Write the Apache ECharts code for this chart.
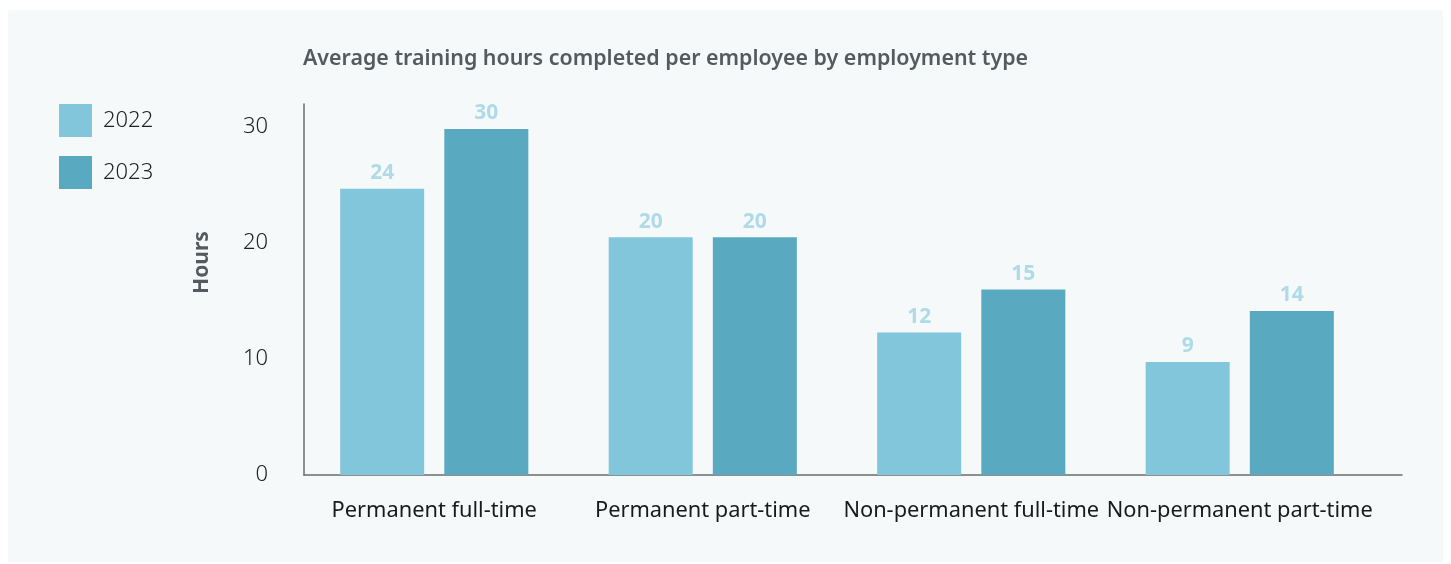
<!DOCTYPE html>
<html>
<head>
<meta charset="utf-8">
<script src="https://cdn.jsdelivr.net/npm/echarts@6/dist/echarts.min.js"></script>
<style>
  html, body { margin: 0; padding: 0; background: #ffffff; }
  #panel { position: absolute; left: 8px; top: 10px; width: 1435px; height: 552px; background: #f5f9fa; }
  #main { position: absolute; left: 0; top: 0; width: 1451px; height: 564px; }
</style>
</head>
<body>
<div id="panel"></div>
<div id="main"></div>
<script>
// Categories and values
const categories = [
  "Permanent full-time",
  "Permanent part-time",
  "Non-permanent full-time",
  "Non-permanent part-time",
];
const seriesNames = ["2022", "2023"];
const hours2022 = [24.7, 20.5, 12.3, 9.75];
const hours2023 = [29.85, 20.5, 16.0, 14.15];
// printed labels above the bars
const labels2022 = ["24", "20", "12", "9"];
const labels2023 = ["30", "20", "15", "14"];

const FONT = "Noto Sans";
const Y_MAX = 32;

const chart = echarts.init(document.getElementById("main"), null, { renderer: "canvas" });

function barSeries(name, values, labels, color) {
  return {
    name: name,
    type: "bar",
    xAxisIndex: 1,
    yAxisIndex: 1,
    data: values,
    barWidth: 84,
    barGap: "24%",
    itemStyle: { color: color },
    label: {
      show: true,
      position: "top",
      distance: 5,
      formatter: (p) => labels[p.dataIndex],
      color: "#aedbe7",
      fontFamily: FONT,
      fontWeight: "bold",
      fontSize: 21,
    },
  };
}

const axisLineStyle = { show: true, lineStyle: { color: "#6b6b6b", width: 1.5 } };

chart.setOption({
  backgroundColor: "transparent",
  animation: false,
  title: {
    text: "Average training hours completed per employee by employment type",
    left: 298,
    top: 43,
    textStyle: { fontFamily: FONT, fontWeight: 600, fontSize: 21.4, color: "#555a5e" },
  },
  legend: {
    orient: "vertical",
    left: 54,
    top: 99,
    itemWidth: 33,
    itemHeight: 33,
    itemGap: 19,
    icon: "rect",
    data: seriesNames,
    textStyle: { fontFamily: FONT, fontWeight: 300, fontSize: 22, color: "#222222", padding: [0, 0, 0, 6] },
  },
  // grid 0 draws the axis frame, grid 1 holds the bars (groups sit a bit left of even spacing)
  grid: [
    { left: 304, right: 49, top: 104, bottom: 89 },
    { left: 300, right: 77, top: 104, bottom: 89 },
  ],
  xAxis: [
    {
      type: "category",
      gridIndex: 0,
      data: categories,
      axisLine: axisLineStyle,
      axisTick: { show: false },
      axisLabel: { show: false },
    },
    {
      type: "category",
      gridIndex: 1,
      data: categories,
      axisLine: { show: false },
      axisTick: { show: false },
      axisLabel: { interval: 0, margin: 25, fontFamily: FONT, fontSize: 21.8, color: "#1a1a1a" },
    },
  ],
  yAxis: [
    {
      type: "value",
      gridIndex: 0,
      min: 0,
      max: Y_MAX,
      interval: 10,
      name: "Hours",
      nameLocation: "middle",
      nameGap: 91,
      nameRotate: 90,
      nameTextStyle: { fontFamily: FONT, fontWeight: "bold", fontSize: 21, color: "#555a5e", padding: [0, 0, 0, 54] },
      axisLine: axisLineStyle,
      axisTick: { show: false },
      splitLine: { show: false },
      axisLabel: {
        margin: 36,
        fontFamily: FONT,
        fontWeight: 300,
        fontSize: 22,
        color: "#222222",
        showMaxLabel: false,
      },
    },
    {
      type: "value",
      gridIndex: 1,
      min: 0,
      max: Y_MAX,
      show: false,
    },
  ],
  series: [
    barSeries(seriesNames[0], hours2022, labels2022, "#82c6db"),
    barSeries(seriesNames[1], hours2023, labels2023, "#59a9c0"),
  ],
});
</script>
</body>
</html>
